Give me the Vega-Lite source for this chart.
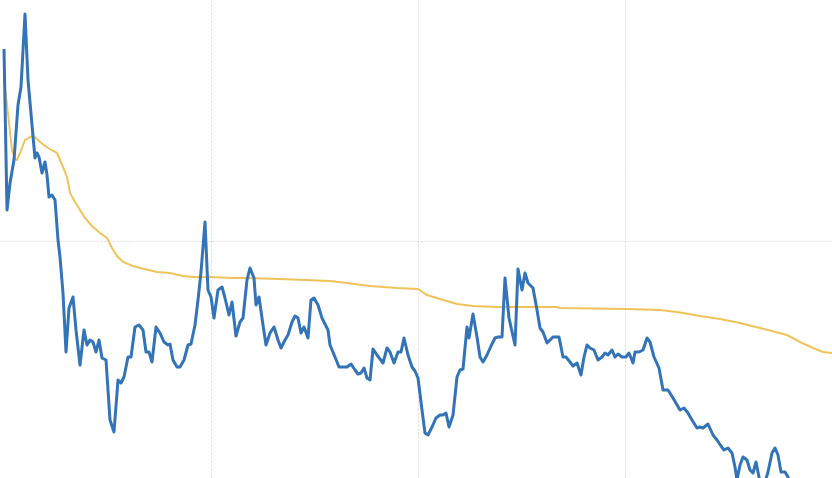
{
  "$schema": "https://vega.github.io/schema/vega-lite/v6.json",
  "width": 832,
  "height": 478,
  "autosize": {"type": "fit", "contains": "padding"},
  "padding": 0,
  "background": "white",
  "config": {
    "view": {"stroke": null},
    "axis": {"domain": false, "ticks": false, "labels": false, "title": null, "grid": true, "gridColor": "#d9d9d9", "gridDash": [2, 2], "gridWidth": 1}
  },
  "datasets": {
    "avg": [
      {"t": 0, "v": 204}, {"t": 0.5, "v": 195.5}, {"t": 4, "v": 164}, {"t": 5.5, "v": 159.5}, {"t": 6.5, "v": 159},
      {"t": 8, "v": 162.5}, {"t": 10.5, "v": 169}, {"t": 14, "v": 171}, {"t": 15.5, "v": 170.5}, {"t": 18, "v": 168},
      {"t": 22, "v": 165}, {"t": 26.5, "v": 162.5}, {"t": 29.5, "v": 155.5}, {"t": 31.5, "v": 150.5}, {"t": 33, "v": 142.5},
      {"t": 35.5, "v": 138}, {"t": 38, "v": 134}, {"t": 40.5, "v": 130}, {"t": 44, "v": 126}, {"t": 48, "v": 122.5},
      {"t": 51.5, "v": 120}, {"t": 54, "v": 115}, {"t": 56.5, "v": 111}, {"t": 59.5, "v": 108}, {"t": 64.5, "v": 106},
      {"t": 68, "v": 105}, {"t": 76.5, "v": 103}, {"t": 83, "v": 102.5}, {"t": 89.5, "v": 101}, {"t": 94.5, "v": 100.5},
      {"t": 103, "v": 100.5}, {"t": 114.5, "v": 100}, {"t": 121.5, "v": 100}, {"t": 138, "v": 99.5}, {"t": 163, "v": 98.5},
      {"t": 171.5, "v": 97.5}, {"t": 183, "v": 96}, {"t": 196.5, "v": 95}, {"t": 207, "v": 94.5}, {"t": 211.5, "v": 91.5},
      {"t": 218, "v": 89.5}, {"t": 226.5, "v": 87}, {"t": 234.5, "v": 86}, {"t": 246.5, "v": 85.5}, {"t": 261.5, "v": 85.5},
      {"t": 276.5, "v": 85.5}, {"t": 278, "v": 85}, {"t": 311.5, "v": 84.5}, {"t": 328, "v": 84}, {"t": 336.5, "v": 83},
      {"t": 348, "v": 81}, {"t": 358, "v": 79.5}, {"t": 368, "v": 77.5}, {"t": 378, "v": 75}, {"t": 391.5, "v": 71.5},
      {"t": 398, "v": 68}, {"t": 404.5, "v": 65}, {"t": 409.5, "v": 63}, {"t": 414, "v": 62.5}
    ],
    "raw": [
      {"t": 0, "v": 214.5}, {"t": 1.5, "v": 134}, {"t": 3, "v": 147.5}, {"t": 5, "v": 159}, {"t": 7, "v": 186.5},
      {"t": 8.5, "v": 195.5}, {"t": 10.5, "v": 232}, {"t": 12, "v": 199}, {"t": 14, "v": 176.5}, {"t": 15.5, "v": 160},
      {"t": 16.5, "v": 162.5}, {"t": 17.5, "v": 160.5}, {"t": 19, "v": 152.5}, {"t": 20.5, "v": 158}, {"t": 21.5, "v": 151.5},
      {"t": 22.5, "v": 140.5}, {"t": 24, "v": 141.5}, {"t": 25.5, "v": 139}, {"t": 27, "v": 119}, {"t": 28, "v": 110.5},
      {"t": 29.5, "v": 92.5}, {"t": 31, "v": 63}, {"t": 32.5, "v": 85}, {"t": 34.5, "v": 90.5}, {"t": 36, "v": 74},
      {"t": 38, "v": 56.5}, {"t": 40, "v": 74}, {"t": 41.5, "v": 66.5}, {"t": 43, "v": 69}, {"t": 44.5, "v": 68},
      {"t": 46, "v": 63}, {"t": 47.5, "v": 69}, {"t": 49, "v": 60}, {"t": 51, "v": 59}, {"t": 53, "v": 29},
      {"t": 55, "v": 23}, {"t": 57, "v": 49}, {"t": 58.5, "v": 47.5}, {"t": 60, "v": 50.5}, {"t": 62, "v": 60.5},
      {"t": 63.5, "v": 60.5}, {"t": 65.5, "v": 75.5}, {"t": 67.5, "v": 76.5}, {"t": 69.5, "v": 74}, {"t": 71, "v": 63},
      {"t": 72.5, "v": 63}, {"t": 74, "v": 58}, {"t": 76, "v": 75.5}, {"t": 78, "v": 72.5}, {"t": 80, "v": 68},
      {"t": 82, "v": 66.5}, {"t": 83, "v": 67}, {"t": 84.5, "v": 59}, {"t": 86.5, "v": 55.5}, {"t": 88, "v": 55.5},
      {"t": 90, "v": 59}, {"t": 92, "v": 66.5}, {"t": 93.5, "v": 67}, {"t": 95.5, "v": 76.5}, {"t": 97, "v": 89},
      {"t": 98.5, "v": 103}, {"t": 100.5, "v": 128}, {"t": 102, "v": 94}, {"t": 103.5, "v": 90.5}, {"t": 105, "v": 80},
      {"t": 107, "v": 94}, {"t": 109, "v": 95.5}, {"t": 110.5, "v": 90}, {"t": 112.5, "v": 81.5}, {"t": 114, "v": 88},
      {"t": 116, "v": 71}, {"t": 118, "v": 78}, {"t": 119.5, "v": 80}, {"t": 121.5, "v": 99}, {"t": 123, "v": 105},
      {"t": 125, "v": 100}, {"t": 126, "v": 86.5}, {"t": 127.5, "v": 90.5}, {"t": 129.5, "v": 76.5}, {"t": 131, "v": 66.5},
      {"t": 133, "v": 72.5}, {"t": 135, "v": 75.5}, {"t": 137, "v": 69}, {"t": 138.5, "v": 65}, {"t": 140.5, "v": 69},
      {"t": 142, "v": 71.5}, {"t": 144, "v": 78}, {"t": 145.5, "v": 81}, {"t": 147, "v": 80}, {"t": 148.5, "v": 72.5},
      {"t": 150, "v": 75.5}, {"t": 152, "v": 70}, {"t": 153.5, "v": 89}, {"t": 155, "v": 90}, {"t": 157, "v": 86.5},
      {"t": 159, "v": 80}, {"t": 162, "v": 74}, {"t": 163, "v": 66.5}, {"t": 165.5, "v": 60.5}, {"t": 167.5, "v": 55.5},
      {"t": 169.5, "v": 55.5}, {"t": 171.5, "v": 55.5}, {"t": 173.5, "v": 57}, {"t": 175.5, "v": 54}, {"t": 177, "v": 52},
      {"t": 178.5, "v": 52.5}, {"t": 180, "v": 55}, {"t": 181.5, "v": 50}, {"t": 183, "v": 49}, {"t": 184.5, "v": 64.5},
      {"t": 186.5, "v": 61.5}, {"t": 189.5, "v": 57.5}, {"t": 191.5, "v": 65}, {"t": 193, "v": 63}, {"t": 195, "v": 57.5},
      {"t": 197, "v": 63}, {"t": 198.5, "v": 63}, {"t": 200, "v": 70}, {"t": 202, "v": 61.5}, {"t": 204, "v": 55.5},
      {"t": 205.5, "v": 53.5}, {"t": 207, "v": 50}, {"t": 209, "v": 34}, {"t": 210.5, "v": 22.5}, {"t": 212, "v": 21.5},
      {"t": 214, "v": 25.5}, {"t": 216, "v": 30}, {"t": 218, "v": 31.5}, {"t": 219.5, "v": 31.5}, {"t": 221, "v": 32.5},
      {"t": 222.5, "v": 25.5}, {"t": 224.5, "v": 31.5}, {"t": 226.5, "v": 50.5}, {"t": 228, "v": 54}, {"t": 229.5, "v": 54.5},
      {"t": 231.5, "v": 75.5}, {"t": 232.5, "v": 70}, {"t": 234.5, "v": 82}, {"t": 236.5, "v": 70.5}, {"t": 238, "v": 60.5},
      {"t": 239.5, "v": 58}, {"t": 241.5, "v": 61.5}, {"t": 243.5, "v": 66}, {"t": 245.5, "v": 70}, {"t": 247, "v": 70.5},
      {"t": 249, "v": 70.5}, {"t": 250.5, "v": 100}, {"t": 252.5, "v": 80}, {"t": 255.5, "v": 66.5}, {"t": 257, "v": 104.5},
      {"t": 259, "v": 94}, {"t": 260.5, "v": 102.5}, {"t": 262, "v": 97.5}, {"t": 264.5, "v": 95}, {"t": 266.5, "v": 84},
      {"t": 268, "v": 75}, {"t": 269.5, "v": 73}, {"t": 271.5, "v": 67.5}, {"t": 273, "v": 69}, {"t": 274.5, "v": 70.5},
      {"t": 277.5, "v": 70.5}, {"t": 279.5, "v": 60.5}, {"t": 281, "v": 60.5}, {"t": 283, "v": 58}, {"t": 284.5, "v": 56},
      {"t": 286.5, "v": 57.5}, {"t": 288.5, "v": 51.5}, {"t": 290, "v": 60.5}, {"t": 291.5, "v": 66.5}, {"t": 293, "v": 65},
      {"t": 295, "v": 64}, {"t": 297, "v": 59}, {"t": 299, "v": 60.5}, {"t": 300.5, "v": 62.5}, {"t": 302, "v": 61.5},
      {"t": 304, "v": 64}, {"t": 305.5, "v": 60.5}, {"t": 307, "v": 62}, {"t": 309, "v": 60.5}, {"t": 311, "v": 60.5},
      {"t": 312.5, "v": 62.5}, {"t": 314.5, "v": 57.5}, {"t": 315.5, "v": 63}, {"t": 317.5, "v": 63}, {"t": 319.5, "v": 64},
      {"t": 321.5, "v": 70}, {"t": 323, "v": 68}, {"t": 325, "v": 60.5}, {"t": 327.5, "v": 55}, {"t": 329.5, "v": 44},
      {"t": 332, "v": 44}, {"t": 334.5, "v": 40}, {"t": 338, "v": 34}, {"t": 340, "v": 35}, {"t": 342, "v": 32.5},
      {"t": 344, "v": 29}, {"t": 346.5, "v": 25}, {"t": 348, "v": 25.5}, {"t": 349.5, "v": 25}, {"t": 352, "v": 27},
      {"t": 354.5, "v": 21.5}, {"t": 356.5, "v": 19}, {"t": 358.5, "v": 16}, {"t": 360, "v": 14}, {"t": 362, "v": 15},
      {"t": 364, "v": 12.5}, {"t": 365.5, "v": 5.5}, {"t": 366.5, "v": -1}, {"t": 368, "v": 6.5}, {"t": 369.5, "v": 10.5},
      {"t": 371.5, "v": 9}, {"t": 373, "v": 4}, {"t": 374.5, "v": 2.5}, {"t": 376, "v": 8}, {"t": 378, "v": -2},
      {"t": 380, "v": -4}, {"t": 382, "v": 3}, {"t": 384, "v": 12.5}, {"t": 385.5, "v": 15}, {"t": 387, "v": 11.5},
      {"t": 388.5, "v": 3}, {"t": 390.5, "v": 3}, {"t": 392, "v": 0.5}, {"t": 393, "v": -2}
    ]
  },
  "encoding": {
    "x": {"field": "t", "type": "quantitative", "scale": {"domain": [-2, 414], "nice": false, "zero": false}, "axis": {"values": [103.5, 207, 310.5]}},
    "y": {"field": "v", "type": "quantitative", "scale": {"domain": [0, 239], "nice": false, "zero": false}, "axis": {"values": [118.5]}}
  },
  "layer": [
    {"data": {"name": "avg"}, "mark": {"type": "line", "color": "#f0c35a", "strokeWidth": 2, "clip": true}},
    {"data": {"name": "raw"}, "mark": {"type": "line", "color": "#3373b7", "strokeWidth": 3, "clip": true, "strokeJoin": "round"}}
  ]
}
